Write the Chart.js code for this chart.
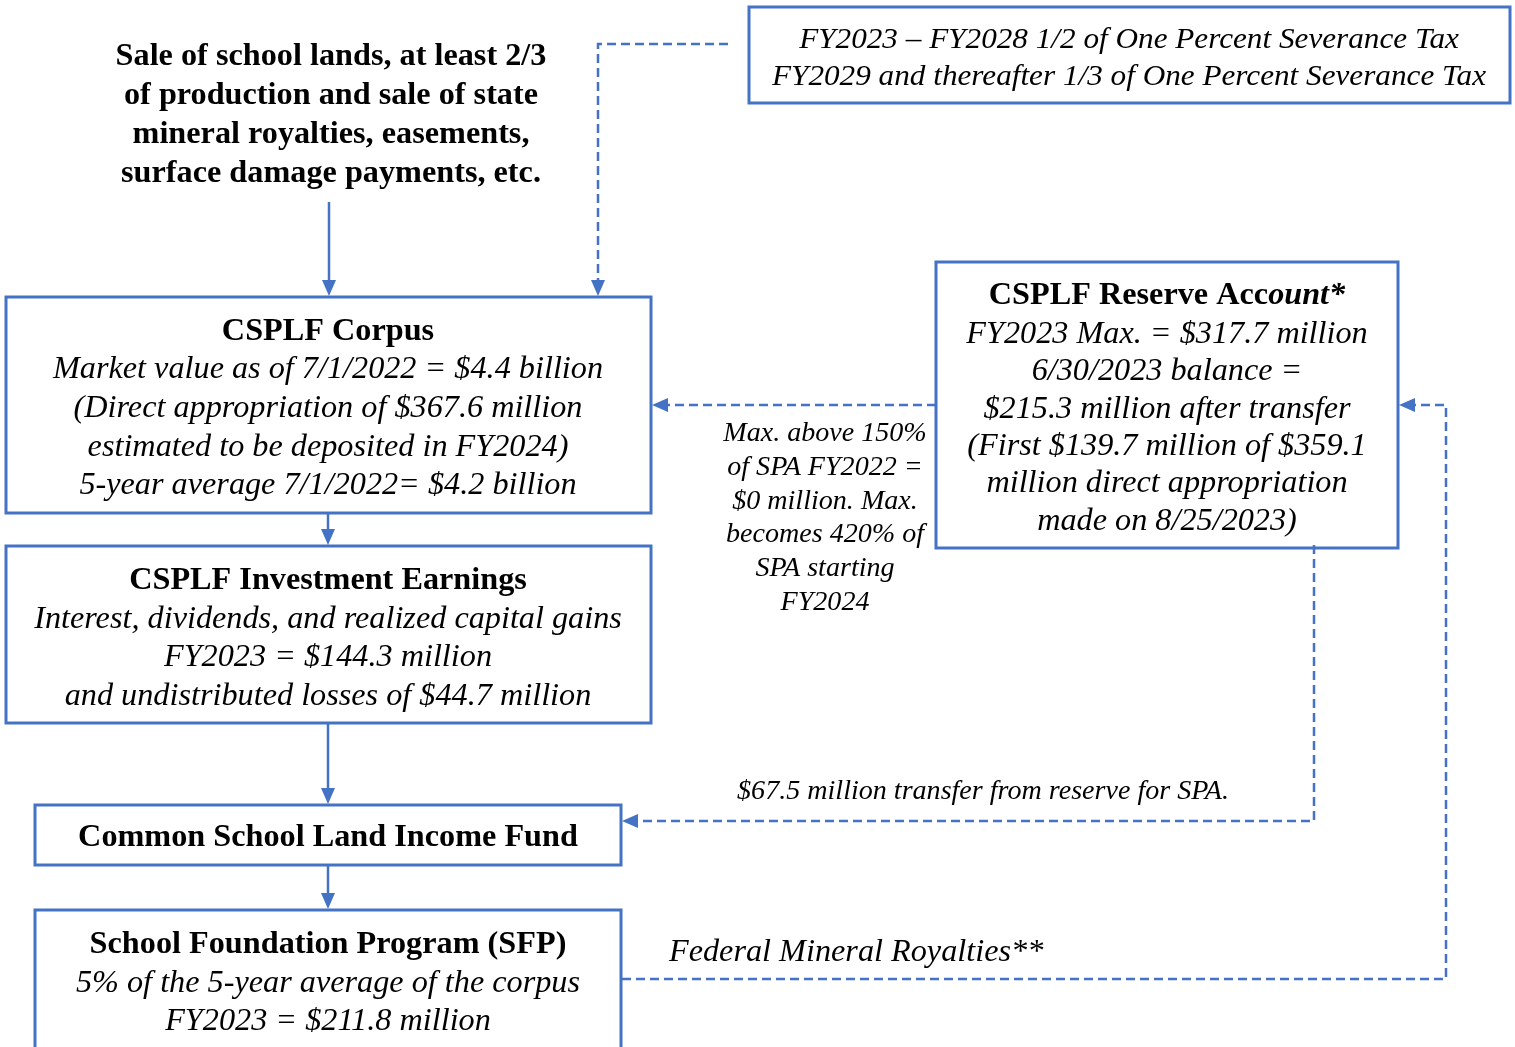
<!DOCTYPE html>
<html>
<head>
<meta charset="utf-8">
<script src="https://cdn.jsdelivr.net/npm/chart.js@4/dist/chart.umd.min.js"></script>
<style>
  html, body { margin: 0; padding: 0; background: #fff; }
  #wrap { width: 1515px; height: 1047px; }
</style>
</head>
<body>
<div id="wrap"><canvas id="flow"></canvas></div>
<script>
// texts of the diagram
const sourceLines = [
  'Sale of school lands, at least 2/3',
  'of production and sale of state',
  'mineral royalties, easements,',
  'surface damage payments, etc.'
];
const severanceLines = [
  'FY2023 \u2013 FY2028 1/2 of One Percent Severance Tax',
  'FY2029 and thereafter 1/3 of One Percent Severance Tax'
];
const corpusTitle = 'CSPLF Corpus';
const corpusLines = [
  'Market value as of 7/1/2022 = $4.4 billion',
  '(Direct appropriation of $367.6 million',
  'estimated to be deposited in FY2024)',
  '5-year average 7/1/2022= $4.2 billion'
];
const earningsTitle = 'CSPLF Investment Earnings';
const earningsLines = [
  'Interest, dividends, and realized capital gains',
  'FY2023 = $144.3 million',
  'and undistributed losses of $44.7 million'
];
const incomeTitle = 'Common School Land Income Fund';
const sfpTitle = 'School Foundation Program (SFP)';
const sfpLines = [
  '5% of the 5-year average of the corpus',
  'FY2023 = $211.8 million'
];
const reserveTitle = ['CSPLF Reserve Acc', 'ount*'];
const reserveLines = [
  'FY2023 Max. = $317.7 million',
  '6/30/2023 balance =',
  '$215.3 million after transfer',
  '(First $139.7 million of $359.1',
  'million direct appropriation',
  'made on 8/25/2023)'
];
const maxNoteLines = [
  'Max. above 150%',
  'of SPA FY2022 =',
  '$0 million. Max.',
  'becomes 420% of',
  'SPA starting',
  'FY2024'
];
const transferNote = '$67.5 million transfer from reserve for SPA.';
const federalNote = 'Federal Mineral Royalties**';

// layout (in scale units = pixels of the reference)
const BLUE = '#4472C4';
const FONT = '"Liberation Serif", "Times New Roman", serif';
const SX = 1.04;

const boxes = [
  { x0: 749, y0: 7, x1: 1510, y1: 103 },
  { x0: 6, y0: 297, x1: 651, y1: 513 },
  { x0: 6, y0: 546, x1: 651, y1: 723 },
  { x0: 35, y0: 805, x1: 621, y1: 865 },
  { x0: 35, y0: 910, x1: 621, y1: 1060 },
  { x0: 936, y0: 262, x1: 1398, y1: 548 }
];

const textBlocks = [
  { lines: sourceLines, cx: 331, y: 57, step: 39, size: 31, style: 'bold' },
  { lines: severanceLines, cx: 1129, y: 40, step: 37.5, size: 30, style: 'italic' },
  { lines: [corpusTitle], cx: 328, y: 332, step: 38, size: 31, style: 'bold' },
  { lines: corpusLines, cx: 328, y: 370, step: 38.7, size: 31, style: 'italic' },
  { lines: [earningsTitle], cx: 328, y: 581, step: 38, size: 31, style: 'bold' },
  { lines: earningsLines, cx: 328, y: 620, step: 38.3, size: 31, style: 'italic' },
  { lines: [incomeTitle], cx: 328, y: 838, step: 38, size: 31, style: 'bold' },
  { lines: [sfpTitle], cx: 328, y: 945, step: 38, size: 31, style: 'bold' },
  { lines: sfpLines, cx: 328, y: 984, step: 38, size: 31, style: 'italic' },
  { lines: reserveLines, cx: 1167, y: 335, step: 37.3, size: 31, style: 'italic' },
  { lines: maxNoteLines, cx: 825, y: 434, step: 33.8, size: 27, style: 'italic' },
  { lines: [transferNote], cx: 983, y: 792, step: 30, size: 27, style: 'italic' },
  { lines: [federalNote], cx: 669, y: 953, step: 30, size: 31, style: 'italic', align: 'left' }
];

const connectors = [
  { pts: [[329, 202], [329, 296]], dashed: false },
  { pts: [[728, 44], [598, 44], [598, 296]], dashed: true },
  { pts: [[328, 513], [328, 545]], dashed: false },
  { pts: [[328, 723], [328, 804]], dashed: false },
  { pts: [[328, 865], [328, 909]], dashed: false },
  { pts: [[936, 405], [652, 405]], dashed: true },
  { pts: [[1314, 545], [1314, 821], [622, 821]], dashed: true },
  { pts: [[622, 979], [1446, 979], [1446, 405], [1399, 405]], dashed: true }
];

function px(chart, x, y) {
  return [chart.scales.x.getPixelForValue(x), chart.scales.y.getPixelForValue(y)];
}

function drawLine(ctx, chart, c) {
  const p = c.pts.map(function (q) { return px(chart, q[0], q[1]); });
  const a = p[p.length - 2], b = p[p.length - 1];
  const ang = Math.atan2(b[1] - a[1], b[0] - a[0]);
  const head = 16;
  ctx.save();
  ctx.strokeStyle = BLUE;
  ctx.fillStyle = BLUE;
  ctx.lineWidth = 2.5;
  ctx.setLineDash(c.dashed ? [9, 5] : []);
  ctx.beginPath();
  ctx.moveTo(p[0][0], p[0][1]);
  for (let i = 1; i < p.length - 1; i++) ctx.lineTo(p[i][0], p[i][1]);
  ctx.lineTo(b[0] - Math.cos(ang) * head, b[1] - Math.sin(ang) * head);
  ctx.stroke();
  ctx.setLineDash([]);
  ctx.beginPath();
  ctx.moveTo(b[0], b[1]);
  ctx.lineTo(b[0] - Math.cos(ang) * head - Math.sin(ang) * 7, b[1] - Math.sin(ang) * head + Math.cos(ang) * 7);
  ctx.lineTo(b[0] - Math.cos(ang) * head + Math.sin(ang) * 7, b[1] - Math.sin(ang) * head - Math.cos(ang) * 7);
  ctx.closePath();
  ctx.fill();
  ctx.restore();
}

function drawText(ctx, text, x, y, font, align) {
  ctx.save();
  ctx.font = font;
  ctx.translate(x, y);
  ctx.scale(SX, 1);
  ctx.textAlign = align || 'center';
  ctx.textBaseline = 'middle';
  ctx.fillText(text, 0, 0);
  ctx.restore();
}

const diagramPlugin = {
  id: 'diagram',
  afterDraw(chart) {
    const ctx = chart.ctx;
    ctx.save();
    ctx.fillStyle = '#000';
    boxes.forEach(function (b) {
      const p0 = px(chart, b.x0, b.y0), p1 = px(chart, b.x1, b.y1);
      ctx.strokeStyle = BLUE;
      ctx.lineWidth = 3;
      ctx.strokeRect(p0[0], p0[1], p1[0] - p0[0], p1[1] - p0[1]);
    });
    connectors.forEach(function (c) { drawLine(ctx, chart, c); });
    textBlocks.forEach(function (t) {
      t.lines.forEach(function (line, i) {
        const p = px(chart, t.cx, t.y + i * t.step);
        drawText(ctx, line, p[0], p[1], t.style + ' ' + t.size + 'px ' + FONT, t.align);
      });
    });
    // reserve title: bold, last part bold italic
    const bf = 'bold 31px ' + FONT, bif = 'italic bold 31px ' + FONT;
    ctx.font = bf;
    const w1 = ctx.measureText(reserveTitle[0]).width * SX;
    ctx.font = bif;
    const w2 = ctx.measureText(reserveTitle[1]).width * SX;
    const c = px(chart, 1167, 296);
    const left = c[0] - (w1 + w2) / 2;
    drawText(ctx, reserveTitle[0], left, c[1], bf, 'left');
    drawText(ctx, reserveTitle[1], left + w1, c[1], bif, 'left');
    ctx.restore();
  }
};

new Chart(document.getElementById('flow'), {
  type: 'scatter',
  data: { datasets: [{ data: [], pointRadius: 0 }] },
  options: {
    responsive: true,
    maintainAspectRatio: false,
    animation: false,
    layout: { padding: 0 },
    plugins: { legend: { display: false }, tooltip: { enabled: false } },
    scales: {
      x: { type: 'linear', min: 0, max: 1515, display: false },
      y: { type: 'linear', min: 0, max: 1047, reverse: true, display: false }
    }
  },
  plugins: [diagramPlugin]
});
</script>
</body>
</html>
